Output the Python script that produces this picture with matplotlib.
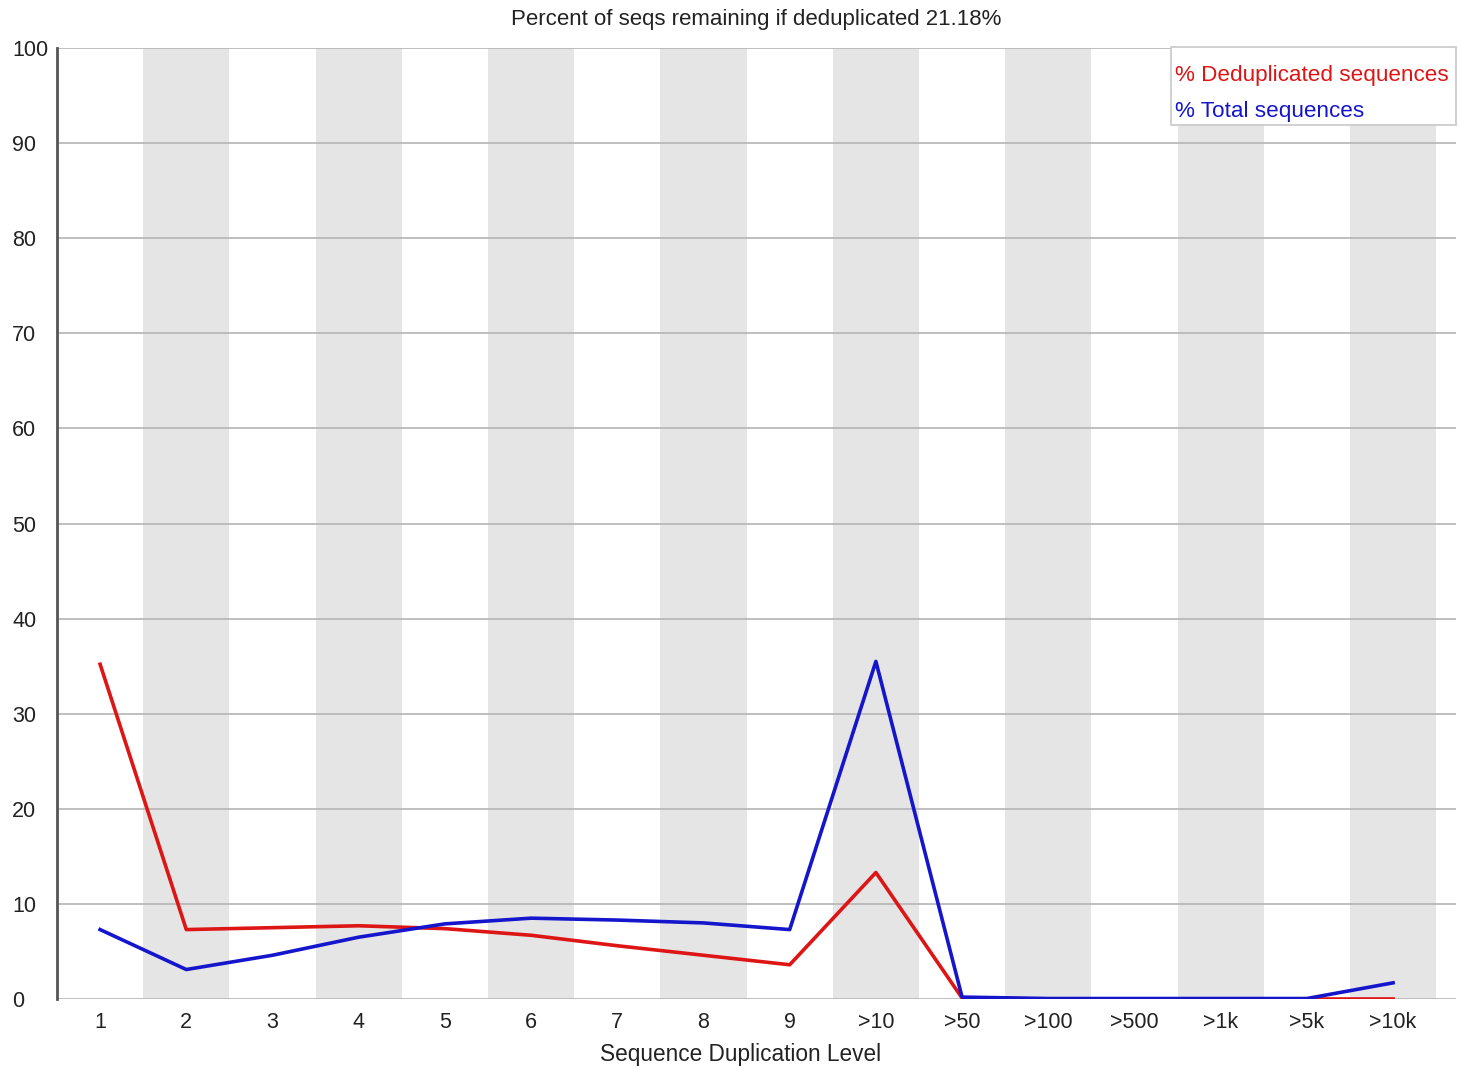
import matplotlib
matplotlib.use("Agg")
import matplotlib.pyplot as plt
from matplotlib.patches import Rectangle

categories = ["1", "2", "3", "4", "5", "6", "7", "8", "9", ">10", ">50", ">100", ">500", ">1k", ">5k", ">10k"]
dedup = [35.2, 7.3, 7.5, 7.7, 7.4, 6.7, 5.6, 4.6, 3.6, 13.3, 0.1, 0.0, 0.0, 0.0, 0.0, 0.0]
total = [7.3, 3.1, 4.6, 6.5, 7.9, 8.5, 8.3, 8.0, 7.3, 35.5, 0.2, 0.05, 0.05, 0.05, 0.05, 1.7]
title = "Percent of seqs remaining if deduplicated 21.18%"
xlabel = "Sequence Duplication Level"
legend_labels = ["% Deduplicated sequences", "% Total sequences"]

RED = '#dd1515'
BLUE = '#1515cc'

plt.rcParams['font.family'] = ['Liberation Sans', 'DejaVu Sans']

W, H = 1458, 1068
fig = plt.figure(figsize=(W / 100, H / 100), dpi=100)
ax = fig.add_axes([57/W, (H-999)/H, (1456-57)/W, (999-48)/H])

x = list(range(len(categories)))
for i in x:
    if i % 2 == 1:
        ax.axvspan(i - 0.5, i + 0.5, color='#e5e5e5', lw=0, zorder=0)

for v in range(0, 101, 10):
    ax.axhline(v, color='#b4b4b4', lw=1.2, zorder=1)

ax.plot(x, dedup, color=RED, lw=2.6, zorder=3)
ax.plot(x, total, color=BLUE, lw=2.6, zorder=4)

ax.set_xlim(-0.5, 15.73)
ax.set_ylim(0, 100)
ax.set_yticks(range(0, 101, 10))
ax.set_xticks(x)
ax.set_xticklabels(categories)
ax.tick_params(length=0, labelsize=15.5, colors='#222222')
ax.tick_params(axis='y', pad=45 * 0.72)
for lbl in ax.get_yticklabels():
    lbl.set_horizontalalignment('left')
ax.tick_params(axis='x', pad=9)
for s in ['top', 'right', 'bottom']:
    ax.spines[s].set_visible(False)
ax.spines['left'].set_color('#555555')
ax.spines['left'].set_linewidth(2)

fig.text(741 / W, 1 - 1055 / H, xlabel, fontsize=16.3, color='#222222',
         ha='center', va='center')
fig.text((510 + 1002) / 2 / W, 1 - 20 / H, title, fontsize=16, color='#222222',
         ha='center', va='center')

# legend box
x0, x1, y0, y1 = 1171, 1456, 47, 125
fig.patches.append(Rectangle((x0 / W, 1 - y1 / H), (x1 - x0) / W, (y1 - y0) / H,
                             transform=fig.transFigure, facecolor='white',
                             edgecolor='#c8c8c8', lw=1.2, zorder=10))
fig.text(1175 / W, 1 - 75 / H, legend_labels[0], color=RED, fontsize=16.2,
         ha='left', va='center', zorder=11)
fig.text(1175 / W, 1 - 111 / H, legend_labels[1], color=BLUE, fontsize=16.2,
         ha='left', va='center', zorder=11)

fig.savefig('out.png', dpi=100, facecolor='white')
